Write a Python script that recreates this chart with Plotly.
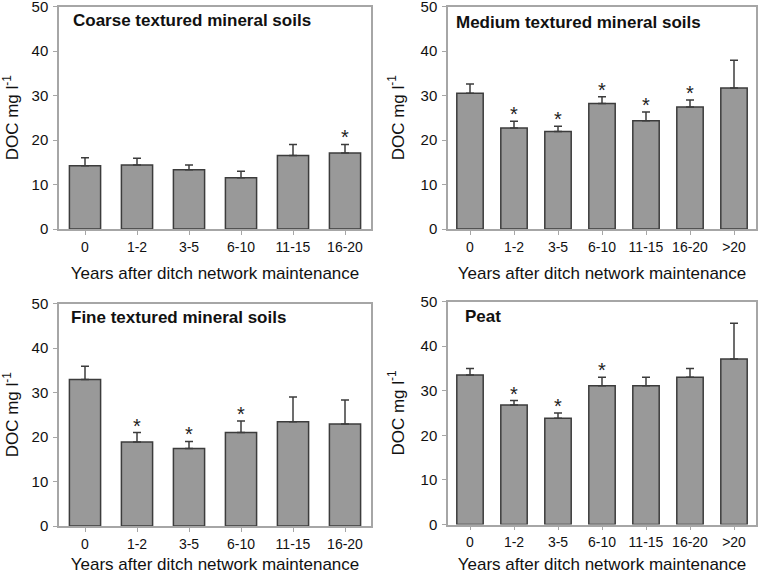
import plotly.graph_objects as go

# ---- data ----
cats6 = ["0", "1-2", "3-5", "6-10", "11-15", "16-20"]
cats7 = ["0", "1-2", "3-5", "6-10", "11-15", "16-20", ">20"]

coarse_mean = [14.2, 14.4, 13.3, 11.5, 16.5, 17.1]
coarse_err = [1.8, 1.5, 1.1, 1.5, 2.5, 1.9]
coarse_sig = [0, 0, 0, 0, 0, 1]

medium_mean = [30.5, 22.7, 21.9, 28.2, 24.3, 27.4, 31.7]
medium_err = [2.1, 1.5, 1.2, 1.5, 2.0, 1.6, 6.2]
medium_sig = [0, 1, 1, 1, 1, 1, 0]

fine_mean = [32.9, 18.9, 17.4, 21.0, 23.4, 22.9]
fine_err = [3.0, 2.1, 1.6, 2.6, 5.6, 5.4]
fine_sig = [0, 1, 1, 1, 0, 0]

peat_mean = [33.5, 26.8, 23.8, 31.1, 31.1, 33.0, 37.1]
peat_err = [1.5, 1.0, 1.2, 1.9, 1.9, 2.0, 8.0]
peat_sig = [0, 1, 1, 1, 0, 0, 0]

titles = ["Coarse textured mineral soils", "Medium textured mineral soils",
          "Fine textured mineral soils", "Peat"]
y_ticks = [0, 10, 20, 30, 40, 50]
xlabel = "Years after ditch network maintenance"
ylabel = "DOC mg l<sup>-1</sup>"

panels = [
    (cats6, coarse_mean, coarse_err, coarse_sig),
    (cats7, medium_mean, medium_err, medium_sig),
    (cats6, fine_mean, fine_err, fine_sig),
    (cats7, peat_mean, peat_err, peat_sig),
]

W, H = 761, 574
# pixel boxes: (left, right, top, bottom)
boxes = [
    (59, 371, 6.5, 229),
    (448, 756, 6.5, 229),
    (59, 371, 303.5, 526),
    (448, 756, 301.5, 524.5),
]
# panel title offsets from the plot's top-left corner (px)
title_off = [(12, 14.5), (6, 16.5), (10, 14), (15, 15)]

FONT = "Liberation Sans, Arial, sans-serif"
fig = go.Figure()
annotations = []
layout = {}
for i, ((cats, mean, err, sig), (l, r, t, b)) in enumerate(zip(panels, boxes)):
    n = i + 1
    xa = "x" if n == 1 else f"x{n}"
    ya = "y" if n == 1 else f"y{n}"
    fig.add_trace(go.Bar(
        x=cats, y=mean, xaxis=xa, yaxis=ya,
        marker=dict(color="#999999", line=dict(color="#3c3c3c", width=1.5)),
        error_y=dict(type="data", array=err, arrayminus=[0] * len(err), symmetric=False,
                     color="#3c3c3c", thickness=1.5, width=4),
        showlegend=False, hoverinfo="skip",
    ))
    axis_common = dict(showline=True, linecolor="#a6a6a6", linewidth=1.5, mirror=True,
                       ticks="outside", ticklen=4, tickcolor="#a6a6a6",
                       showgrid=False, zeroline=False, automargin=False,
                       ticklabeloverflow="allow")
    layout["xaxis" if n == 1 else f"xaxis{n}"] = dict(
        axis_common, domain=[l / W, r / W], anchor=ya, type="category",
        range=[-0.5, len(cats) - 0.5],
        tickfont=dict(family=FONT, size=14, color="#111"),
        title=dict(text=xlabel, font=dict(family=FONT, size=17, color="#111"), standoff=14),
    )
    layout["yaxis" if n == 1 else f"yaxis{n}"] = dict(
        axis_common, domain=[1 - b / H, 1 - t / H], anchor=xa, range=[0, 50],
        tickvals=y_ticks, ticklabelstandoff=2,
        tickfont=dict(family=FONT, size=15, color="#111"),
        title=dict(text=ylabel, font=dict(family=FONT, size=17, color="#111"), standoff=12),
    )
    dx, dy = title_off[i]
    annotations.append(dict(
        text="<b>" + titles[i] + "</b>", xref=f"{xa} domain", yref=f"{ya} domain",
        x=0, y=1, xshift=dx, yshift=-dy, xanchor="left", yanchor="middle", showarrow=False,
        font=dict(family=FONT, size=17, color="#111"),
    ))
    for c, m, e, s in zip(cats, mean, err, sig):
        if s:
            annotations.append(dict(
                text="*", x=c, y=m + e, xref=xa, yref=ya, showarrow=False,
                xanchor="center", yanchor="bottom", yshift=-6,
                font=dict(family=FONT, size=20, color="#222"),
            ))

fig.update_layout(
    width=W, height=H, margin=dict(l=0, r=0, t=0, b=0),
    paper_bgcolor="white", plot_bgcolor="white",
    bargap=0.4, annotations=annotations, **layout,
)
fig.write_html("out.html", config={"displayModeBar": False},
               post_script="document.body.style.margin='0px';")
